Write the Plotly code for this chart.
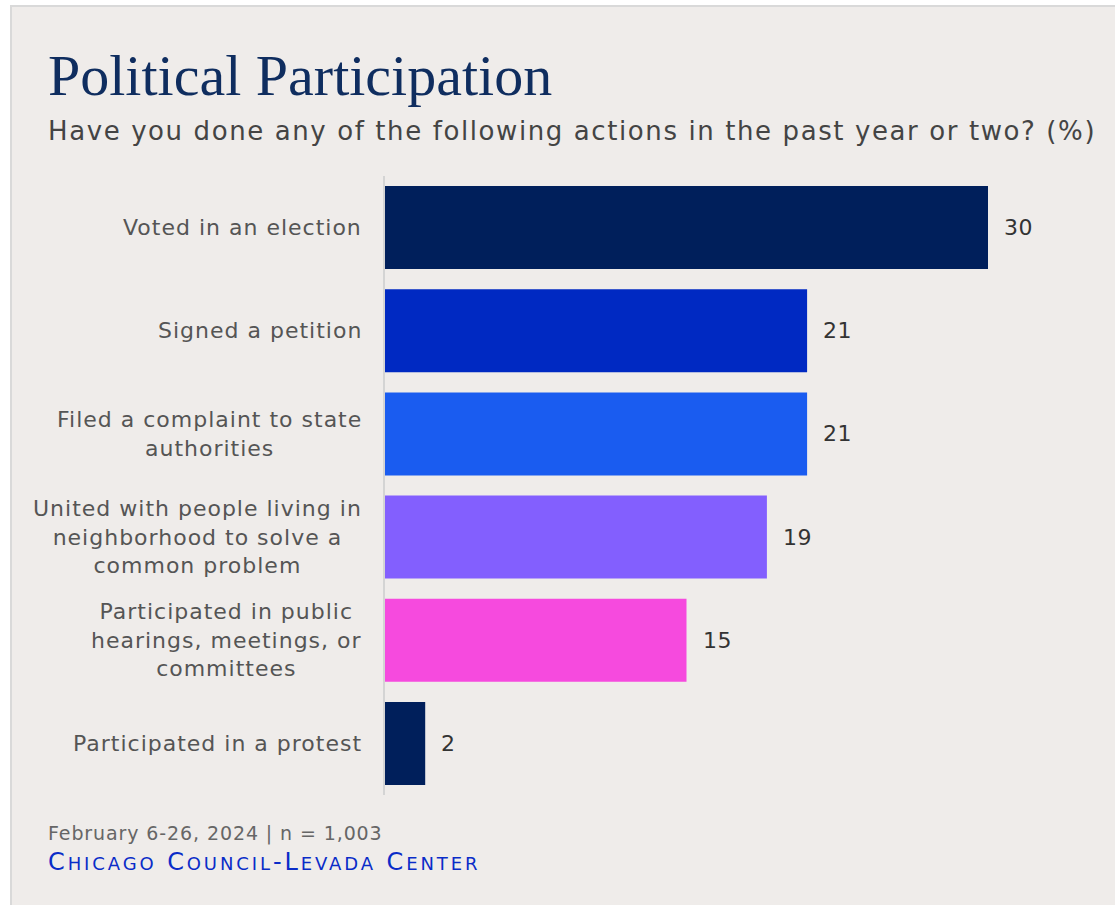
import plotly.graph_objects as go

categories = [
    "Voted in an election",
    "Signed a petition",
    "Filed a complaint to state<br>authorities",
    "United with people living in<br>neighborhood to solve a<br>common problem",
    "Participated in public<br>hearings, meetings, or<br>committees",
    "Participated in a protest",
]
values = [30, 21, 21, 19, 15, 2]
colors = ["#001f5b", "#0029c2", "#1a5cf0", "#835ffe", "#f64ade", "#001f5b"]

W, H = 1115, 905
L, R, T, B = 385, 0, 176, 110
PW, PH = W - L - R, H - T - B
PXU = 20.1  # pixels per unit


def px(x):
    return (x - L) / PW


def py(y):
    return 1 - (y - T) / PH


def ls(text, sp):
    return "<br>".join(f"<span style='letter-spacing:{sp}px'>{t}</span>" for t in text.split("<br>"))


FONT = "DejaVu Sans"
idx = list(range(len(categories)))

fig = go.Figure()
fig.add_trace(go.Bar(
    x=values, y=idx, orientation="h",
    marker=dict(color=colors, line=dict(width=0)),
    width=0.805, hoverinfo="skip",
))

annotations = []
for i, (c, v) in enumerate(zip(categories, values)):
    annotations.append(dict(
        x=0, y=i, xref="x", yref="y", text=ls(c, 1.0), showarrow=False,
        xanchor="right", yanchor="middle", align="center", xshift=-21,
        font=dict(family=FONT, size=22, color="#555555"),
    ))
    annotations.append(dict(
        x=v, y=i, xref="x", yref="y", text=ls(str(v), 0.5), showarrow=False,
        xanchor="left", yanchor="middle", xshift=14,
        font=dict(family=FONT, size=22, color="#333333"),
    ))

annotations += [
    dict(x=px(46), y=py(75), xref="paper", yref="paper", text="Political Participation",
         showarrow=False, xanchor="left", yanchor="middle",
         font=dict(family="Liberation Serif", size=58, color="#0f2d5f")),
    dict(x=px(46), y=py(131), xref="paper", yref="paper",
         text=ls("Have you done any of the following actions in the past year or two? (%)", 1.6),
         showarrow=False, xanchor="left", yanchor="middle",
         font=dict(family=FONT, size=26, color="#444444")),
    dict(x=px(46), y=py(833), xref="paper", yref="paper",
         text=ls("February 6-26, 2024 | n = 1,003", 0.9),
         showarrow=False, xanchor="left", yanchor="middle",
         font=dict(family=FONT, size=19, color="#666666")),
    dict(x=px(46), y=py(862), xref="paper", yref="paper",
         text=("<span style='letter-spacing:2.9px'>C<span style='font-size:18px'>HICAGO</span> C<span style='font-size:18px'>OUNCIL</span>"
               "-L<span style='font-size:18px'>EVADA</span> C<span style='font-size:18px'>ENTER</span></span>"),
         showarrow=False, xanchor="left", yanchor="middle",
         font=dict(family=FONT, size=24, color="#0a2cc8")),
]

fig.update_layout(
    width=W, height=H,
    margin=dict(l=L, r=R, t=T, b=B),
    paper_bgcolor="white", plot_bgcolor="rgba(0,0,0,0)",
    showlegend=False,
    xaxis=dict(range=[0, PW / PXU], visible=False, fixedrange=True),
    yaxis=dict(range=[len(categories) - 0.5, -0.5], showticklabels=False, showgrid=False,
               zeroline=False, showline=True, linecolor="#d4d4d4", linewidth=2, ticks=""),
    annotations=annotations,
    shapes=[dict(type="rect", xref="paper", yref="paper", layer="below",
                 x0=px(11), x1=px(1125), y0=py(6), y1=py(915),
                 fillcolor="#efecea", line=dict(color="#d9d9d9", width=2))],
)

fig.write_html("out.html")
